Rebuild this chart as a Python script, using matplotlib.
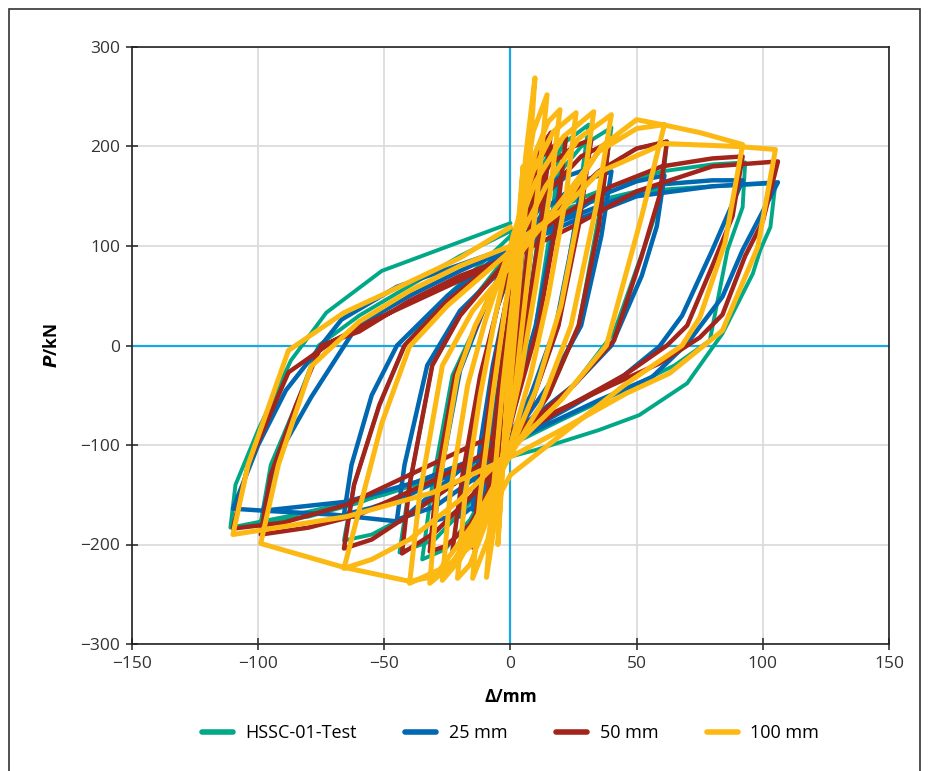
import matplotlib
matplotlib.use('Agg')
import matplotlib.pyplot as plt
from matplotlib.patches import Rectangle

plt.rcParams['font.family'] = ['Open Sans', 'DejaVu Sans']

# 滞回曲线数据 (位移 mm, 荷载 kN)，按加载顺序逐圈读取
hssc_test = [
    (0, 0),
    # ±5
    (2, 60), (5, 120), (3, 60), (0, -10), (-2, -70), (-5, -130), (-3, -70), (0, 0),
    # ±10
    (3, 80), (6, 140), (10, 175), (7, 100), (3, 10), (-2, -70), (-6, -130), (-10, -170), (-7, -100), (-3, -10),
    # ±15
    (1, 60), (6, 140), (10, 180), (15, 198), (11, 110), (6, 20), (0, -60), (-6, -130), (-11, -175), (-15, -192),
    (-12, -120), (-7, -30),
    # ±20
    (-2, 40), (5, 120), (12, 180), (20, 207), (16, 120), (10, 20), (2, -60), (-6, -130), (-14, -180), (-20, -202),
    (-17, -130), (-11, -30),
    # ±30
    (-5, 40), (5, 120), (15, 180), (22, 205), (31, 222), (26, 130), (19, 20), (8, -60), (-4, -120), (-16, -175),
    (-26, -205), (-35, -215), (-31, -140), (-23, -30),
    # ±40
    (-10, 40), (0, 95), (15, 160), (28, 200), (40, 219), (35, 130), (27, 20), (15, -50), (0, -105), (-15, -155),
    (-30, -195), (-44, -208), (-40, -140), (-31, -20),
    # ±60
    (-20, 30), (0, 95), (20, 140), (35, 175), (50, 198), (62, 205), (60, 153), (55, 113), (41, 13), (25, -40),
    (0, -95), (-20, -135), (-40, -170), (-55, -190), (-66, -196), (-62, -140), (-52, -60), (-42, 0),
    # ±90
    (-25, 50), (0, 110), (20, 140), (40, 160), (60, 175), (80, 182), (93, 184), (92, 139), (86, 96), (79, 5),
    (65, -20), (45, -45), (20, -75), (0, -100), (-30, -130), (-60, -158), (-80, -172), (-99, -178), (-95, -120),
    (-85, -60), (-76, 0),
    # ±105
    (-60, 30), (-40, 60), (-20, 90), (0, 115), (25, 140), (50, 155), (80, 160), (105, 163), (103, 119), (99, 96),
    (96, 72), (84, 12), (70, -38), (51, -70), (35, -85), (10, -105), (-20, -125), (-50, -150), (-89, -172),
    (-111, -183), (-109, -140), (-100, -85), (-87, -15), (-73, 33), (-51, 75), (0, 123),
]

sim_25 = [
    (0, 0),
    # ±5
    (2, 50), (5, 100), (3, 40), (0, -20), (-2, -70), (-5, -120), (-3, -60), (0, 0),
    # ±10
    (3, 70), (6, 115), (10, 140), (7, 70), (3, 0), (-2, -60), (-6, -115), (-10, -150), (-7, -80), (-3, -10),
    # ±15
    (1, 50), (6, 120), (10, 150), (15, 162), (11, 90), (6, 10), (0, -60), (-6, -120), (-11, -155), (-15, -165),
    (-12, -100), (-7, -20),
    # ±20
    (-2, 40), (5, 110), (12, 155), (20, 170), (16, 100), (10, 20), (2, -50), (-6, -115), (-14, -160), (-20, -172),
    (-17, -110), (-11, -25),
    # ±30
    (-5, 40), (5, 110), (15, 155), (22, 170), (29, 176), (25, 110), (18, 20), (8, -50), (-4, -110), (-16, -155),
    (-24, -172), (-30, -176), (-27, -120), (-20, -25),
    # ±45
    (-10, 40), (0, 90), (15, 140), (28, 165), (40, 175), (36, 110), (28, 20), (15, -40), (0, -95), (-15, -135),
    (-30, -162), (-45, -175), (-42, -120), (-33, -20),
    # ±60
    (-20, 35), (0, 85), (20, 125), (35, 150), (50, 165), (61, 171), (58, 120), (52, 70), (40, 0), (25, -40),
    (0, -90), (-20, -125), (-40, -150), (-55, -163), (-66, -170), (-63, -120), (-55, -50), (-45, 0),
    # ±90
    (-25, 50), (0, 100), (20, 125), (40, 145), (60, 162), (80, 166), (92, 166), (80, 96), (68, 30), (59, -1),
    (45, -30), (25, -60), (0, -95), (-20, -125), (-44, -177), (-70, -170), (-98, -166), (-92, -110), (-79, -52),
    (-61, 19),
    # ±105
    (-40, 50), (-20, 75), (0, 98), (25, 125), (50, 150), (80, 160), (106, 164), (92, 96), (84, 49), (70, 2),
    (56, -32), (35, -55), (10, -85), (-10, -110), (-37, -137), (-65, -157), (-98, -166), (-110, -164),
    (-100, -100), (-89, -45), (-67, 26), (-45, 59), (0, 99),
]

sim_50 = [
    (0, 0),
    # ±5
    (2, 60), (5, 120), (3, 60), (0, -10), (-2, -70), (-5, -130), (-3, -70), (0, 0),
    # ±10
    (3, 80), (6, 140), (10, 180), (7, 100), (3, 10), (-2, -70), (-6, -130), (-10, -175), (-7, -100), (-3, -10),
    # ±15
    (1, 60), (6, 150), (11, 195), (16, 214), (12, 120), (6, 20), (0, -60), (-6, -140), (-11, -185), (-15, -203),
    (-12, -130), (-7, -30),
    # ±20
    (-2, 40), (5, 130), (12, 190), (22, 210), (18, 120), (11, 20), (2, -60), (-6, -140), (-15, -190), (-23, -206),
    (-19, -130), (-12, -30),
    # ±30
    (-5, 40), (5, 120), (15, 180), (25, 200), (32, 207), (27, 120), (19, 20), (8, -60), (-4, -125), (-16, -180),
    (-26, -202), (-32, -207), (-29, -130), (-22, -30),
    # ±40
    (-10, 40), (0, 95), (15, 155), (28, 190), (39, 204), (35, 120), (27, 20), (15, -50), (0, -105), (-15, -150),
    (-30, -188), (-43, -209), (-40, -140), (-31, -20),
    # ±60
    (-20, 30), (0, 90), (20, 140), (35, 175), (50, 198), (62, 205), (59, 150), (52, 90), (41, 5), (25, -40),
    (0, -95), (-20, -135), (-40, -170), (-55, -195), (-66, -204), (-62, -140), (-52, -60), (-42, 0),
    # ±90
    (-25, 45), (0, 95), (20, 130), (40, 160), (60, 180), (80, 188), (92, 190), (88, 130), (80, 80), (70, 20),
    (62, 0), (45, -30), (20, -65), (0, -95), (-30, -135), (-60, -170), (-80, -183), (-99, -190), (-95, -130),
    (-85, -60), (-75, 0),
    # ±105
    (-60, 14), (-40, 45), (-20, 70), (0, 89), (25, 120), (50, 155), (80, 180), (106, 185), (100, 125), (93, 90),
    (84, 31), (75, 8), (59, -18), (40, -40), (15, -70), (-15, -100), (-40, -130), (-65, -160), (-90, -178),
    (-110, -184), (-104, -120), (-88, -27), (-70, 5), (-57, 22), (0, 89),
]

sim_100 = [
    (0, 0),
    # ±5
    (2, 90), (5, 180), (3, 100), (0, 10), (-2, -80), (-5, -200), (-3, -110), (0, -10),
    # ±10
    (3, 90), (6, 190), (9.7, 269), (7, 170), (3, 50), (0, -40), (-4, -140), (-9.5, -233), (-7, -150), (-3, -40),
    # ±15
    (1, 50), (5, 150), (9, 215), (14.5, 252), (11, 160), (6, 50), (2, -40), (-4, -130), (-9, -195), (-15, -234),
    (-12, -150), (-7, -50),
    # ±20
    (-2, 40), (4, 130), (10, 195), (15, 225), (19.6, 237), (16, 160), (10, 60), (4, -30), (-3, -110), (-10, -180),
    (-16, -220), (-21, -234), (-18, -150), (-12, -50),
    # ±26
    (-6, 30), (1, 110), (9, 175), (17, 215), (26, 234), (22, 150), (15, 50), (8, -30), (0, -100), (-10, -170),
    (-20, -215), (-27, -236), (-24, -150), (-17, -40),
    # ±33
    (-10, 25), (0, 100), (10, 165), (21, 210), (33, 235), (28, 145), (20, 40), (10, -45), (0, -105), (-12, -175),
    (-24, -222), (-32, -239), (-29, -150), (-21, -30),
    # ±40
    (-14, 20), (0, 90), (14, 160), (27, 208), (40, 232), (34, 140), (24, 20), (12, -60), (0, -110), (-15, -180),
    (-28, -225), (-40, -239), (-36, -150), (-27, -20),
    # +61 / -66
    (-15, 35), (0, 80), (20, 145), (35, 195), (50, 218), (61, 222), (52, 130), (38, 0), (20, -55), (0, -105),
    (-20, -155), (-40, -195), (-55, -215), (-66, -224), (-51, -78), (-40, -1),
    # +92 / -99
    (-25, 40), (0, 95), (20, 135), (36, 200), (50, 227), (62, 221), (75, 214), (92, 202), (85, 103), (75, 28),
    (68, 0), (45, -40), (20, -90), (0, -130), (-15, -200), (-30, -232), (-40, -237), (-66, -223), (-99, -199),
    (-92, -120), (-79, -21), (-60, 24),
    # +105 / -110
    (-40, 55), (-20, 80), (0, 100), (20, 135), (35, 174), (61, 203), (90, 200), (105, 197), (98, 99), (84, 15),
    (63, -28), (46, -48), (20, -85), (0, -112), (-31, -148), (-65, -172), (-110, -190), (-104, -120), (-88, -5),
    (-66, 33), (-49, 53), (-20, 88), (0, 119),
]

series = [
    ('HSSC-01-Test', hssc_test, '#00a887', 2.8),
    ('25 mm', sim_25, '#0067b1', 3.2),
    ('50 mm', sim_50, '#a3241b', 3.2),
    ('100 mm', sim_100, '#fdb913', 3.6),
]

x_ticks = [-150, -100, -50, 0, 50, 100, 150]
y_ticks = [-300, -200, -100, 0, 100, 200, 300]

fig = plt.figure(figsize=(9.35, 7.71), dpi=100)
ax = fig.add_axes([132 / 935, 1 - 644 / 771, 757 / 935, 597 / 771])

# 外框（底边在图外）
fig.patches.append(Rectangle((9 / 935, -0.05), 911 / 935, 1.05 - 9 / 771, transform=fig.transFigure,
                             fill=False, edgecolor='#333333', linewidth=1.2))

for name, pts, color, lw in series:
    xs = [p[0] for p in pts]
    ys = [p[1] for p in pts]
    ax.plot(xs, ys, color=color, lw=lw, label=name, solid_joinstyle='round', solid_capstyle='round', zorder=3)

ax.axhline(0, color='#1aa7e0', lw=1.6, zorder=2)
ax.axvline(0, color='#1aa7e0', lw=1.6, zorder=2)

ax.set_xlim(-150, 150)
ax.set_ylim(-300, 300)
ax.set_xticks(x_ticks)
ax.set_yticks(y_ticks)
ax.set_xticklabels([str(v).replace('-', '\u2212') for v in x_ticks])
ax.set_yticklabels([str(v).replace('-', '\u2212') for v in y_ticks])
ax.grid(True, color='#d9d9d9', lw=1.2, zorder=0)
ax.set_axisbelow(True)
for s in ax.spines.values():
    s.set_color('#222222')
    s.set_linewidth(1.2)
ax.tick_params(direction='inout', length=9, width=1.1, labelsize=12.5, colors='#222222',
               labelcolor='#333333', pad=4)

ax.set_xlabel('\u0394/mm', fontsize=12.5, fontweight='bold', labelpad=12)
ax.set_ylabel(r'$\mathbfit{P}$/kN', fontsize=12.5, fontweight='bold', labelpad=14)

leg = ax.legend(loc='upper center', bbox_to_anchor=(0.5, -0.107), ncol=4, frameon=False,
                fontsize=13, handlelength=1.7, columnspacing=2.7, handletextpad=0.7)
for line in leg.get_lines():
    line.set_linewidth(4)

fig.savefig('out.png', dpi=100)
